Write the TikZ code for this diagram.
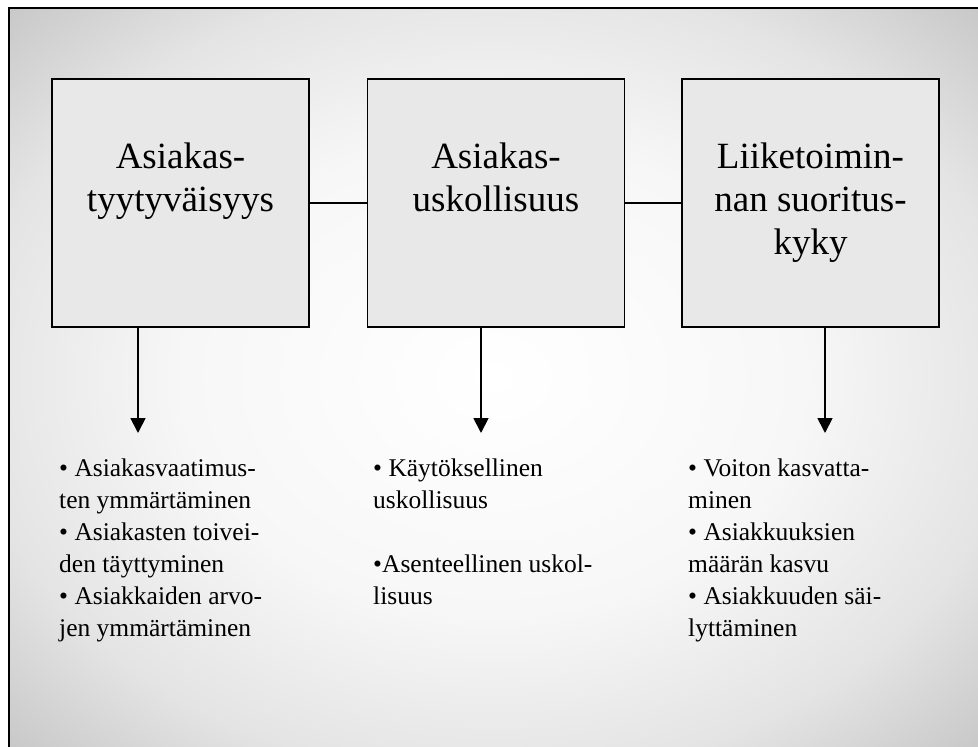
\documentclass[tikz,border=0pt]{standalone}
\usepackage{fontspec}
\setmainfont{Liberation Serif}
\usetikzlibrary{arrows.meta,positioning}

\definecolor{bggray}{HTML}{C3C3C3}
\definecolor{bgmid}{HTML}{E4E4E4}
\definecolor{bglight}{HTML}{F7F7F7}
\definecolor{boxgray}{HTML}{E8E8E8}
\pgfdeclareradialshading{bgshade}{\pgfpoint{0bp}{0bp}}{%
  color(0bp)=(white); color(16bp)=(bglight); color(27bp)=(bgmid);
  color(37bp)=(bggray); color(50bp)=(bggray)}

\begin{document}
\begin{tikzpicture}[x=1pt,y=-1pt,
  box/.style={draw,line width=1.6pt,fill=boxgray,minimum width=257pt,minimum height=248pt,inner sep=0pt},
  boxtext/.style={align=center,inner sep=0pt,font=\fontsize{37}{43}\selectfont},
  listtext/.style={align=left,anchor=north west,inner sep=0pt,font=\fontsize{25.5}{32}\selectfont},
  arr/.style={line width=1.8pt,-{Triangle[length=15pt,width=15pt]}}]
  \clip (0,0) rectangle (978,747);
  \shade[shading=bgshade] (9,8) rectangle (978,747);
  \draw[line width=2pt] (9,8) rectangle (990,760);

  \node[box] (sat) at (180.5,203) {};
  \node[box] (loy) at (496,203) {};
  \node[box] (perf) at (810.5,203) {};
  \draw[line width=1.6pt] (sat) -- (loy);
  \draw[line width=1.6pt] (loy) -- (perf);

  \node[boxtext,below=64pt of sat.north] (satlbl) {Asiakas-\\tyytyväisyys};
  \node[boxtext,below=64pt of loy.north] (loylbl) {Asiakas-\\uskollisuus};
  \node[boxtext,below=64pt of perf.north] (perflbl) {Liiketoimin-\\nan suoritus-\\kyky};

  \coordinate (satend) at (138,433);
  \coordinate (loyend) at (481,433);
  \coordinate (perfend) at (825,433);
  \draw[arr] (sat.south -| satend) -- (satend);
  \draw[arr] (loy.south -| loyend) -- (loyend);
  \draw[arr] (perf.south -| perfend) -- (perfend);

  \node[listtext] (satlist) at (59,459) {• Asiakasvaatimus-\\ten ymmärtäminen\\• Asiakasten toivei-\\den täyttyminen\\• Asiakkaiden arvo-\\jen ymmärtäminen};
  \node[listtext] (loylist) at (373,459) {• Käytöksellinen\\uskollisuus\\[32pt]•Asenteellinen uskol-\\lisuus};
  \node[listtext] (perflist) at (688,459) {• Voiton kasvatta-\\minen\\• Asiakkuuksien\\määrän kasvu\\• Asiakkuuden säi-\\lyttäminen};
\end{tikzpicture}
\end{document}
